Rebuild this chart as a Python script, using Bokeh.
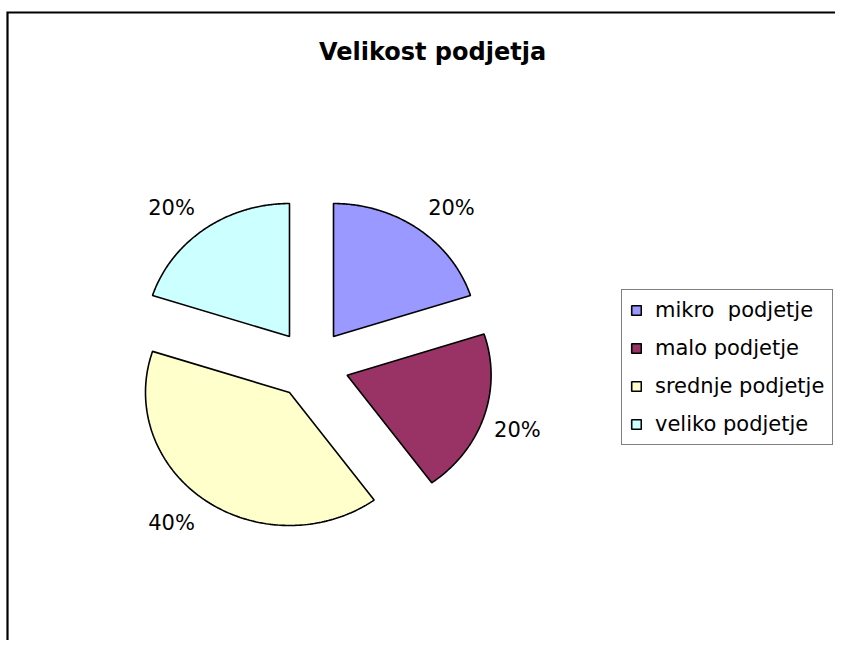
import numpy as np
from bokeh.plotting import figure
from bokeh.models import ColumnDataSource, Range1d, Legend, LegendItem, Label
from bokeh.embed import file_html
from bokeh.resources import INLINE
from bokeh.core.properties import value

# ---- data ----
title_text = "Velikost podjetja"
categories = ["mikro  podjetje", "malo podjetje", "srednje podjetje", "veliko podjetje"]
shares = [20, 20, 40, 20]
colors = ["#9999FF", "#993366", "#FFFFCC", "#CCFFFF"]

# ---- layout ----
W, H = 835, 640
cx_px, cy_px = 311, 364        # pie centre inside the canvas (pixels)
rx_px, ry_px = 144, 133        # one data unit in pixels (slightly elliptical pie)
explode = 0.26

x_range = Range1d(-cx_px / rx_px, (W - cx_px) / rx_px)
y_range = Range1d(-(H - cy_px) / ry_px, cy_px / ry_px)

p = figure(width=W, height=H, x_range=x_range, y_range=y_range,
           output_backend="svg", toolbar_location=None,
           x_axis_location=None, y_axis_location=None,
           min_border=0, outline_line_color=None,
           background_fill_color="white", border_fill_color="white")
p.grid.visible = False

total = float(sum(shares))
fracs = np.array(shares) / total
ends = np.pi / 2 - 2 * np.pi * np.cumsum(fracs)
starts = ends + 2 * np.pi * fracs
mids = (starts + ends) / 2

xs, ys = [], []
for s, e, m in zip(starts, ends, mids):
    ox, oy = explode * np.cos(m), explode * np.sin(m)
    t = np.linspace(s, e, 150)
    xs.append(list(np.concatenate([[ox], ox + np.cos(t), [ox]])))
    ys.append(list(np.concatenate([[oy], oy + np.sin(t), [oy]])))

src = ColumnDataSource(dict(xs=xs, ys=ys, color=colors, name=categories))
r = p.patches("xs", "ys", source=src, fill_color="color",
              line_color="black", line_width=1.6)

# percentage labels
pct = [f"{round(v / total * 100)}%" for v in shares]
lx = 1.26 * np.cos(mids)
ly = 1.40 * np.sin(mids)
align = ["left" if c >= 0 else "right" for c in np.cos(mids)]
xoff = [10 if c >= 0 else -10 for c in np.cos(mids)]
yoff = [-6 if s >= 0 else 8 for s in np.sin(mids)]
lsrc = ColumnDataSource(dict(x=lx, y=ly, text=pct, align=align, xoff=xoff, yoff=yoff))
p.text("x", "y", text="text", source=lsrc, text_align="align",
       text_baseline="middle", x_offset="xoff", y_offset="yoff",
       text_font=value("DejaVu Sans"), text_font_size="21px", text_color="black")

# title
p.add_layout(Label(x=432, y=H - 51, x_units="screen", y_units="screen",
                   text=title_text, text_align="center", text_baseline="middle",
                   text_font="DejaVu Sans", text_font_style="bold",
                   text_font_size="24px", text_color="black"))

# chart area border (top and left edges are the visible ones)
bx0 = (7 - cx_px) / rx_px
by0 = (cy_px - 12) / ry_px
p.line([(W + 5 - cx_px) / rx_px, bx0, bx0], [by0, by0, -(H + 5 - cy_px) / ry_px],
       line_color="black", line_width=2.2, line_join="miter")

# legend
items = [LegendItem(label=c, renderers=[r], index=i) for i, c in enumerate(categories)]
legend = Legend(items=items, location=(621, H - 292 - 153), orientation="vertical",
                padding=8, spacing=14, margin=0,
                glyph_width=12, glyph_height=12, label_standoff=13,
                label_text_font="DejaVu Sans", label_text_font_size="21px",
                label_text_color="black",
                border_line_color="black", border_line_width=1.6,
                background_fill_color="white", background_fill_alpha=1.0)
p.add_layout(legend, "center")

open("out.html", "w").write(file_html(p, INLINE))
